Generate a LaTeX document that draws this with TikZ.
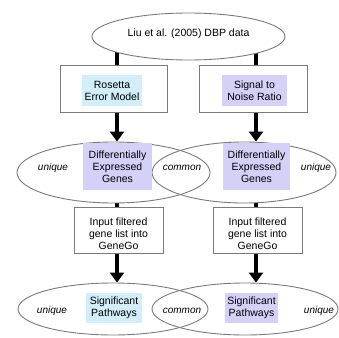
\documentclass[tikz,border=0pt]{standalone}
\usepackage{fontspec}
\setmainfont{Liberation Sans}
\usetikzlibrary{shapes.geometric,arrows.meta,backgrounds}

\definecolor{edgegray}{HTML}{7A7A7A}
\definecolor{skyfill}{HTML}{D2EEFA}
\definecolor{lavfill}{HTML}{D4D0F8}

\begin{document}
\begin{tikzpicture}[x=1pt,y=-1pt,
  every node/.style={font=\fontsize{10.5}{12}\selectfont, align=center, inner sep=0pt},
  oval/.style={ellipse, draw=edgegray, line width=0.9pt},
  stepbox/.style={rectangle, draw=edgegray, line width=0.9pt, fill=white},
  hilite/.style={rectangle, draw=none},
  tag/.style={font=\fontsize{10}{12}\selectfont\itshape},
  link/.style={line width=4pt, black},
  flow/.style={link, -{Triangle[width=14pt,length=10pt]}}]

\useasboundingbox (0,0) rectangle (339,337);

% source data
\node[oval, fill=white, minimum width=193pt, minimum height=47pt] (src) at (188.5,36.5) {};
\node (srcT) at (188.5,34) {Liu et al. (2005) DBP data};

% two analysis methods
\node[stepbox, minimum width=107pt, minimum height=47pt] (rosetta) at (113.5,88.5) {};
\node[hilite, fill=skyfill, minimum width=60pt, minimum height=31pt] (rosettaT) at (112,90.5) {Rosetta\\Error Model};
\node[stepbox, minimum width=108pt, minimum height=47pt] (snr) at (253,88.5) {};
\node[hilite, fill=lavfill, minimum width=65pt, minimum height=31pt] (snrT) at (254.5,90.5) {Signal to\\Noise Ratio};

% differentially expressed gene sets
\node[oval, minimum width=193pt, minimum height=61pt] (degL) at (113.5,172.5) {};
\node[oval, minimum width=184pt, minimum height=61pt] (degR) at (244,172.5) {};
\node[hilite, fill=lavfill, minimum width=69pt, minimum height=47pt] (degLT) at (117.5,166.5) {Differentially\\Expressed\\Genes};
\node[hilite, fill=lavfill, minimum width=67pt, minimum height=47pt] (degRT) at (256.5,166.5) {Differentially\\Expressed\\Genes};
\node[tag] (uDegL) at (53,168) {unique};
\node[tag] (cDeg) at (182,168) {common};
\node[tag] (uDegR) at (316,168) {unique};

% GeneGo steps
\node[stepbox, minimum width=89pt, minimum height=46pt] (filterL) at (118.5,230) {};
\node (filterLT) at (118.5,233.5) {Input filtered\\gene list into\\GeneGo};
\node[stepbox, minimum width=89pt, minimum height=46pt] (filterR) at (257.5,230) {};
\node (filterRT) at (257.5,233.5) {Input filtered\\gene list into\\GeneGo};

% significant pathway sets
\node[oval, minimum width=190pt, minimum height=52pt] (pathL) at (113,309) {};
\node[oval, minimum width=186pt, minimum height=52pt] (pathR) at (245,309) {};
\node[hilite, fill=skyfill, minimum width=56pt, minimum height=30pt] (pathLT) at (114,308) {Significant\\Pathways};
\node[hilite, fill=lavfill, minimum width=53pt, minimum height=30pt] (pathRT) at (251.5,308) {Significant\\Pathways};
\node[tag] (uPathL) at (52,311) {unique};
\node[tag] (cPath) at (182,311) {common};
\node[tag] (uPathR) at (319,311) {unique};

% connectors, kept under the nodes
\coordinate (colL) at (117,0);
\coordinate (colR) at (256,0);
\begin{scope}[on background layer]
  \draw[link] (src.center -| colL) -- (rosetta.north -| colL);
  \draw[link] (src.center -| colR) -- (snr.north -| colR);
  \draw[flow] (rosetta.south -| colL) -- (colL |- degL.north);
  \draw[flow] (snr.south -| colR) -- (colR |- degR.north);
  \draw[link] (colL |- degL.south) -- (filterL.north -| colL);
  \draw[link] (colR |- degR.south) -- (filterR.north -| colR);
  \draw[flow] (filterL.south -| colL) -- (colL |- pathL.north);
  \draw[flow] (filterR.south -| colR) -- (colR |- pathR.north);
\end{scope}
\end{tikzpicture}
\end{document}
